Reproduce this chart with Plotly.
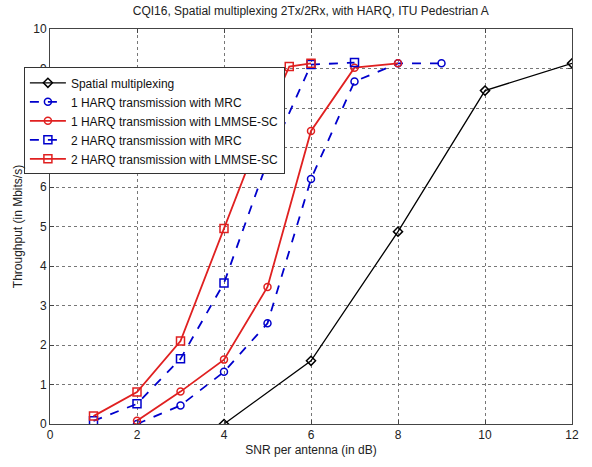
import plotly.graph_objects as go

sm_x = [4, 6, 8, 10, 12]
sm_y = [0.0, 1.6, 4.87, 8.44, 9.13]

h1_mrc_x = [2, 3, 4, 5, 6, 7, 8, 9]
h1_mrc_y = [0.0, 0.47, 1.32, 2.55, 6.2, 8.67, 9.13, 9.13]

h1_lmmse_x = [2, 3, 4, 5, 6, 7, 8]
h1_lmmse_y = [0.08, 0.82, 1.63, 3.47, 7.42, 9.02, 9.13]

h2_mrc_x = [1, 2, 3, 4, 5, 6, 7]
h2_mrc_y = [0.08, 0.51, 1.65, 3.57, 6.65, 9.1, 9.15]

h2_lmmse_x = [1, 2, 3, 4, 5, 5.5, 6]
h2_lmmse_y = [0.2, 0.81, 2.1, 4.95, 7.8, 9.05, 9.13]

names = [
    "Spatial multiplexing",
    "1 HARQ transmission with MRC",
    "1 HARQ transmission with LMMSE-SC",
    "2 HARQ transmission with MRC",
    "2 HARQ transmission with LMMSE-SC",
]

BLUE = "#0000cc"
RED = "#e02020"

fig = go.Figure()
fig.add_trace(go.Scatter(x=sm_x, y=sm_y, name=names[0], mode="lines+markers",
                         line=dict(color="black", width=1.3),
                         marker=dict(symbol="diamond-open", size=7, color="black", line=dict(width=1.5))))
fig.add_trace(go.Scatter(x=h1_mrc_x, y=h1_mrc_y, name=names[1], mode="lines+markers",
                         line=dict(color=BLUE, width=1.8, dash="dash"),
                         marker=dict(symbol="circle-open", size=7, color=BLUE, line=dict(width=1.5))))
fig.add_trace(go.Scatter(x=h1_lmmse_x, y=h1_lmmse_y, name=names[2], mode="lines+markers",
                         line=dict(color=RED, width=1.8),
                         marker=dict(symbol="circle-open", size=7, color=RED, line=dict(width=1.5))))
fig.add_trace(go.Scatter(x=h2_mrc_x, y=h2_mrc_y, name=names[3], mode="lines+markers",
                         line=dict(color=BLUE, width=1.8, dash="dash"),
                         marker=dict(symbol="square-open", size=8, color=BLUE, line=dict(width=1.5))))
fig.add_trace(go.Scatter(x=h2_lmmse_x, y=h2_lmmse_y, name=names[4], mode="lines+markers",
                         line=dict(color=RED, width=1.8),
                         marker=dict(symbol="square-open", size=8, color=RED, line=dict(width=1.5))))

axis_common = dict(
    showline=True, linecolor="#444", linewidth=1, mirror="ticks",
    ticks="inside", ticklen=4, tickcolor="#444",
    showgrid=True, gridcolor="#777", griddash="dot", gridwidth=1,
    zeroline=False, tickfont=dict(family="Liberation Sans, Arial", size=12, color="#222"),
)

fig.update_layout(
    width=592, height=467,
    margin=dict(l=50, r=20, t=29, b=35),
    paper_bgcolor="white", plot_bgcolor="white",
    title=dict(text="CQI16, Spatial multiplexing 2Tx/2Rx, with HARQ, ITU Pedestrian A",
               x=0.525, xanchor="center", y=0.977, yanchor="middle",
               font=dict(family="Liberation Sans, Arial", size=12, color="#222")),
    xaxis=dict(range=[0, 12], dtick=2, tick0=0,
               title=dict(text="SNR per antenna (in dB)", standoff=4,
                          font=dict(family="Liberation Sans, Arial", size=12, color="#222")),
               **axis_common),
    yaxis=dict(range=[0, 10], dtick=1, tick0=0,
               title=dict(text="Throughput (in Mbits/s)", standoff=8,
                          font=dict(family="Liberation Sans, Arial", size=12, color="#222")),
               **axis_common),
    legend=dict(x=-0.05, y=0.903, xanchor="left", yanchor="top",
                bgcolor="white", bordercolor="#333", borderwidth=1,
                font=dict(family="Liberation Sans, Arial", size=12, color="#111"),
                tracegroupgap=0, itemwidth=36),
    showlegend=True,
)

fig.write_html("out.html")
